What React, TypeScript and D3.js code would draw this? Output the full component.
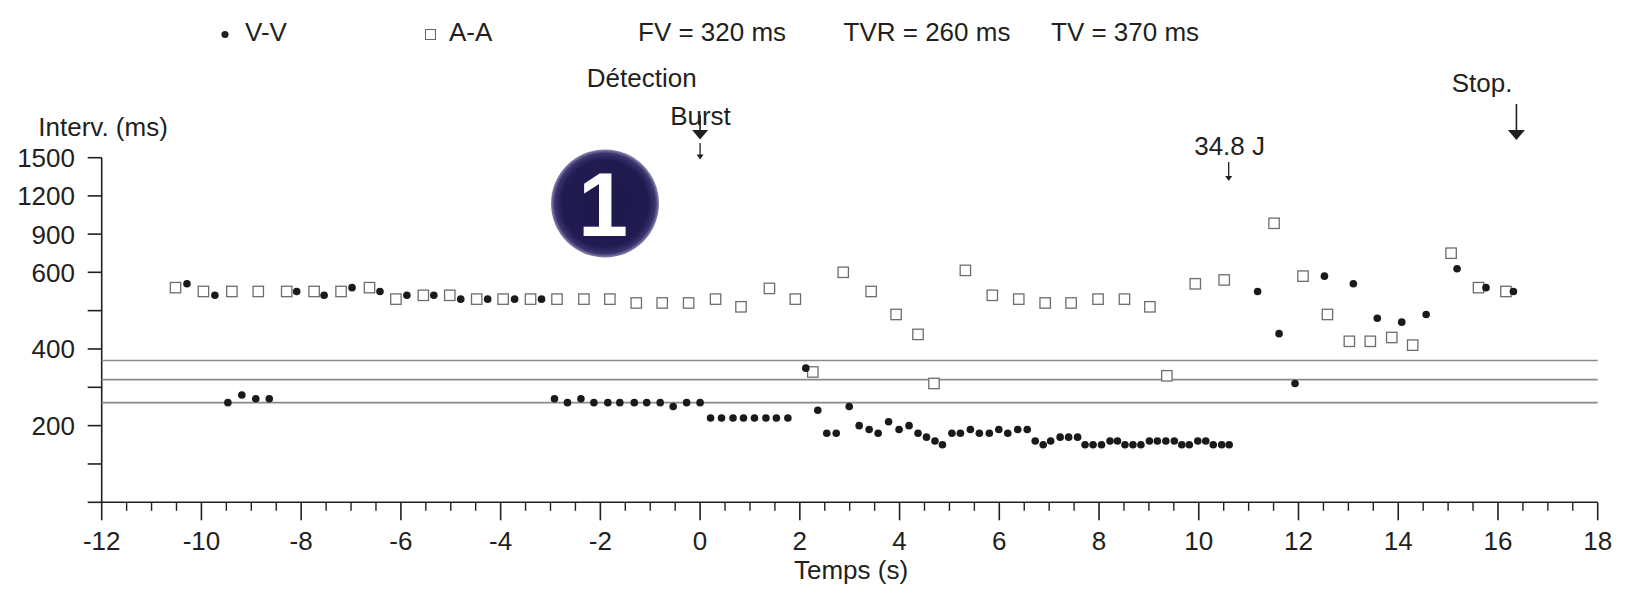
import * as d3 from "d3"

// A-A intervals (open squares)
const aaTimes = [
  -10.52, -9.96, -9.39, -8.86, -8.29, -7.74, -7.2, -6.63, -6.1, -5.55,
  -5.02, -4.48, -3.95, -3.4, -2.87, -2.33, -1.81, -1.28, -0.76, -0.23,
  0.31, 0.82, 1.39, 1.91, 2.26, 2.87, 3.43, 3.93, 4.37, 4.69,
  5.32, 5.86, 6.39, 6.92, 7.44, 7.98, 8.51, 9.02, 9.36, 9.93,
  10.51, 11.51, 12.09, 12.58, 13.02, 13.44, 13.87, 14.29, 15.06, 15.61,
  16.16
]
const aaValues = [
  560, 550, 550, 550, 550, 550, 550, 560, 530, 540,
  540, 530, 530, 530, 530, 530, 530, 520, 520, 520,
  530, 510, 558, 530, 340, 600, 550, 490, 438, 310,
  615, 540, 530, 520, 520, 530, 530, 510, 330, 570,
  580, 985, 590, 490, 420, 420, 430, 410, 750, 560,
  550
]

// V-V intervals (filled dots)
const vvTimes = [
  -10.29, -9.73, -9.47, -9.19, -8.91, -8.64, -8.09, -7.54, -6.98, -6.42,
  -5.88, -5.34, -4.8, -4.26, -3.72, -3.18, -2.92, -2.66, -2.39, -2.13,
  -1.85, -1.61, -1.32, -1.07, -0.8, -0.54, -0.27, 0.0, 0.21, 0.43,
  0.66, 0.87, 1.09, 1.32, 1.53, 1.76, 2.12, 2.36, 2.54, 2.73,
  2.99, 3.19, 3.39, 3.57, 3.78, 3.99, 4.19, 4.37, 4.54, 4.71,
  4.86, 5.05, 5.22, 5.42, 5.6, 5.8, 5.99, 6.17, 6.37, 6.56,
  6.72, 6.88, 7.03, 7.22, 7.39, 7.57, 7.72, 7.88, 8.05, 8.22,
  8.37, 8.52, 8.68, 8.84, 9.01, 9.17, 9.34, 9.51, 9.66, 9.81,
  9.98, 10.14, 10.29, 10.46, 10.61, 11.18, 11.61, 11.93, 12.52, 13.1,
  13.58, 14.07, 14.56, 15.18, 15.76, 16.31
]
const vvValues = [
  570, 540, 260, 280, 270, 270, 550, 540, 560, 550,
  540, 540, 530, 530, 530, 530, 270, 260, 270, 260,
  260, 260, 260, 260, 260, 250, 260, 260, 220, 220,
  220, 220, 220, 220, 220, 220, 350, 240, 180, 180,
  250, 200, 190, 180, 210, 190, 200, 180, 170, 160,
  150, 180, 180, 190, 180, 180, 190, 180, 190, 190,
  160, 150, 160, 170, 170, 170, 150, 150, 150, 160,
  160, 150, 150, 150, 160, 160, 160, 160, 150, 150,
  160, 160, 150, 150, 150, 550, 440, 310, 590, 570,
  480, 470, 490, 628, 560, 550
]

const yTicks = [0, 100, 200, 300, 400, 500, 600, 900, 1200, 1500]
const yTickLabels = ["", "", "200", "", "400", "", "600", "900", "1200", "1500"]
const xTicks = [-12, -10, -8, -6, -4, -2, 0, 2, 4, 6, 8, 10, 12, 14, 16, 18]
const xTickLabels = ["-12", "-10", "-8", "-6", "-4", "-2", "0", "2", "4", "6", "8", "10", "12", "14", "16", "18"]

// TVR, FV, TV limits (ms)
const limitValues = [260, 320, 370]

const legendTexts = ["FV = 320 ms", "TVR = 260 ms", "TV = 370 ms"]
const legendTextX = [638, 843.5, 1051]

const FONT = "'Liberation Sans', Arial, Helvetica, sans-serif"
const INK = "#231f20"
const FS = 26

export default function App() {
  const width = 1633
  const height = 615

  const x = d3.scaleLinear().domain([-12, 18]).range([101.7, 1597.7])
  const y = d3.scaleLinear().domain([0, 600, 1500]).range([502.3, 272.3, 157.7])

  const minorTicks = d3.range(-12, 18.001, 0.5).filter(t => Math.abs(t % 2) > 0.01)

  const x0 = x(0)
  const xShock = x(10.6)
  const xStop = x(16.37)

  return (
    <svg
      width={width}
      height={height}
      style={{ position: "absolute", left: 0, top: 0, background: "#fff" }}
      fontFamily={FONT}
    >
      <defs>
        <radialGradient id="badge" cx="50%" cy="50%" r="50%">
          <stop offset="0%" stopColor="#1d1849" />
          <stop offset="80%" stopColor="#211b52" />
          <stop offset="93%" stopColor="#3a3470" />
          <stop offset="100%" stopColor="#8a86ad" />
        </radialGradient>
      </defs>

      {/* legend */}
      <circle cx={225} cy={34.5} r={3.6} fill={INK} />
      <text x={245} y={41} fontSize={FS} fill={INK}>V-V</text>
      <rect x={425.5} y={29.5} width={10} height={10} fill="#fff" stroke="#666" strokeWidth={1} />
      <text x={449} y={41} fontSize={FS} fill={INK}>A-A</text>
      {legendTexts.map((t, i) => (
        <text key={t} x={legendTextX[i]} y={41} fontSize={FS} fill={INK}>{t}</text>
      ))}

      {/* annotations */}
      <text x={641.7} y={87} fontSize={FS} fill={INK} textAnchor="middle">Détection</text>
      <text x={700.5} y={125} fontSize={FS} fill={INK} textAnchor="middle">Burst</text>
      <line x1={x0} x2={x0} y1={115} y2={131} stroke={INK} strokeWidth={1.6} />
      <path d={`M${x0 - 8},130 L${x0 + 8},130 L${x0},139.5 Z`} fill={INK} />
      <line x1={x0} x2={x0} y1={143} y2={156} stroke={INK} strokeWidth={1.3} />
      <path d={`M${x0 - 3.5},154.5 L${x0 + 3.5},154.5 L${x0},159.5 Z`} fill={INK} />

      <text x={1229.6} y={155} fontSize={FS} fill={INK} textAnchor="middle">34.8 J</text>
      <line x1={xShock} x2={xShock} y1={162} y2={178} stroke={INK} strokeWidth={1.3} />
      <path d={`M${xShock - 3.5},176 L${xShock + 3.5},176 L${xShock},181 Z`} fill={INK} />

      <text x={1482} y={92} fontSize={FS} fill={INK} textAnchor="middle">Stop.</text>
      <line x1={xStop} x2={xStop} y1={104} y2={131} stroke={INK} strokeWidth={1.6} />
      <path d={`M${xStop - 8.5},130 L${xStop + 8.5},130 L${xStop},140 Z`} fill={INK} />

      {/* episode badge */}
      <circle cx={605} cy={203.5} r={54} fill="url(#badge)" />
      <text x={603} y={236} fontSize={90} fontWeight="bold" fill="#fff" textAnchor="middle">1</text>

      {/* y axis */}
      <text x={38.3} y={135.7} fontSize={FS} fill={INK}>Interv. (ms)</text>
      <line x1={x(-12)} x2={x(-12)} y1={y(1500)} y2={y(0)} stroke={INK} strokeWidth={1.6} />
      {yTicks.map((v, i) => (
        <g key={v}>
          <line x1={x(-12) - 14} x2={x(-12)} y1={y(v)} y2={y(v)} stroke={INK} strokeWidth={1.6} />
          {yTickLabels[i] && (
            <text x={75} y={y(v) + 9.5} fontSize={FS} fill={INK} textAnchor="end">{yTickLabels[i]}</text>
          )}
        </g>
      ))}

      {/* x axis */}
      <line x1={x(-12)} x2={x(18)} y1={y(0)} y2={y(0)} stroke={INK} strokeWidth={1.6} />
      {minorTicks.map(t => (
        <line key={t} x1={x(t)} x2={x(t)} y1={y(0)} y2={y(0) + 8.5} stroke={INK} strokeWidth={1.4} />
      ))}
      {xTicks.map((t, i) => (
        <g key={t}>
          <line x1={x(t)} x2={x(t)} y1={y(0)} y2={y(0) + 18} stroke={INK} strokeWidth={1.6} />
          <text x={x(t)} y={550} fontSize={FS} fill={INK} textAnchor="middle">{xTickLabels[i]}</text>
        </g>
      ))}
      <text x={851} y={579} fontSize={FS} fill={INK} textAnchor="middle">Temps (s)</text>

      {/* limit lines */}
      {limitValues.map(v => (
        <line key={v} x1={x(-12)} x2={x(18)} y1={y(v)} y2={y(v)} stroke="#8a8a8a" strokeWidth={1.6} />
      ))}

      {/* A-A squares */}
      {aaTimes.map((t, i) => (
        <rect
          key={"a" + i}
          x={x(t) - 5.2}
          y={y(aaValues[i]) - 5.2}
          width={10.4}
          height={10.4}
          fill="#fff"
          stroke="#6d6d6d"
          strokeWidth={1.3}
        />
      ))}

      {/* V-V dots */}
      {vvTimes.map((t, i) => (
        <circle key={"v" + i} cx={x(t)} cy={y(vvValues[i])} r={3.8} fill="#1a1a1a" />
      ))}
    </svg>
  )
}
